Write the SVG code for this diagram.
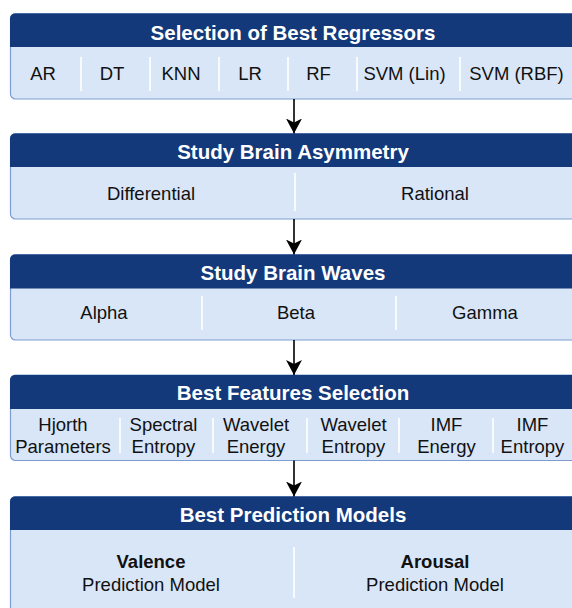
<svg xmlns="http://www.w3.org/2000/svg" width="572" height="608" viewBox="0 0 572 608">
  <defs>
    <style>
      .body { fill: #d9e6f8; stroke: #7d9dd0; stroke-width: 1.2; }
      .head { fill: #13397b; }
      .title { font-family: "Liberation Sans", Arial, sans-serif; font-weight: bold; font-size: 20.5px; fill: #ffffff; text-anchor: middle; }
      .item { font-family: "Liberation Sans", Arial, sans-serif; font-size: 18.5px; fill: #111111; text-anchor: middle; }
      .strong { font-weight: bold; }
      .sep { stroke: #ffffff; stroke-width: 1.6; }
      .conn { stroke: #000000; stroke-width: 1.6; fill: none; marker-end: url(#arrow); }
    </style>
    <marker id="arrow" viewBox="0 0 15 16" refX="15" refY="8" markerWidth="15" markerHeight="16" markerUnits="userSpaceOnUse" orient="auto">
      <path d="M0,0 L15,8 L0,16 L4,8 Z" fill="#000000"/>
    </marker>
  </defs>

  <!-- Stage 1: regressor selection -->
  <g id="regressors">
    <rect class="body" x="10.5" y="13.5" width="568" height="85.5" rx="5"/>
    <path class="head" d="M10,47 V18.5 A5,5 0 0 1 15,13.5 H580 V47 Z"/>
    <text class="title" x="293" y="40">Selection of Best Regressors</text>
    <line class="sep" x1="81" y1="57" x2="81" y2="91"/>
    <line class="sep" x1="150" y1="57" x2="150" y2="91"/>
    <line class="sep" x1="219" y1="57" x2="219" y2="91"/>
    <line class="sep" x1="288" y1="57" x2="288" y2="91"/>
    <line class="sep" x1="357" y1="57" x2="357" y2="91"/>
    <line class="sep" x1="460" y1="57" x2="460" y2="91"/>
    <text class="item" x="43" y="80">AR</text>
    <text class="item" x="112" y="80">DT</text>
    <text class="item" x="181" y="80">KNN</text>
    <text class="item" x="250" y="80">LR</text>
    <text class="item" x="318.5" y="80">RF</text>
    <text class="item" x="404.5" y="80">SVM (Lin)</text>
    <text class="item" x="516.5" y="80">SVM (RBF)</text>
  </g>

  <!-- Stage 2: brain asymmetry -->
  <g id="asymmetry">
    <rect class="body" x="10.5" y="133.5" width="568" height="85.5" rx="5"/>
    <path class="head" d="M10,167 V138.5 A5,5 0 0 1 15,133.5 H580 V167 Z"/>
    <text class="title" x="293" y="159">Study Brain Asymmetry</text>
    <line class="sep" x1="295" y1="173" x2="295" y2="211"/>
    <text class="item" x="151" y="200">Differential</text>
    <text class="item" x="435" y="200">Rational</text>
  </g>

  <!-- Stage 3: brain waves -->
  <g id="waves">
    <rect class="body" x="10.5" y="254.5" width="568" height="85.5" rx="5"/>
    <path class="head" d="M10,288.5 V259.5 A5,5 0 0 1 15,254.5 H580 V288.5 Z"/>
    <text class="title" x="293" y="280">Study Brain Waves</text>
    <line class="sep" x1="202" y1="296" x2="202" y2="330"/>
    <line class="sep" x1="396" y1="296" x2="396" y2="330"/>
    <text class="item" x="104" y="319">Alpha</text>
    <text class="item" x="296" y="319">Beta</text>
    <text class="item" x="485" y="319">Gamma</text>
  </g>

  <!-- Stage 4: feature selection -->
  <g id="features">
    <rect class="body" x="10.5" y="375" width="568" height="85.5" rx="5"/>
    <path class="head" d="M10,409 V380 A5,5 0 0 1 15,375 H580 V409 Z"/>
    <text class="title" x="293" y="400">Best Features Selection</text>
    <line class="sep" x1="120" y1="418" x2="120" y2="453"/>
    <line class="sep" x1="213" y1="418" x2="213" y2="453"/>
    <line class="sep" x1="307" y1="418" x2="307" y2="453"/>
    <line class="sep" x1="399" y1="418" x2="399" y2="453"/>
    <line class="sep" x1="493" y1="418" x2="493" y2="453"/>
    <text class="item" x="63" y="431">Hjorth</text>
    <text class="item" x="63" y="453">Parameters</text>
    <text class="item" x="163.5" y="431">Spectral</text>
    <text class="item" x="163.5" y="453">Entropy</text>
    <text class="item" x="256" y="431">Wavelet</text>
    <text class="item" x="256" y="453">Energy</text>
    <text class="item" x="353.5" y="431">Wavelet</text>
    <text class="item" x="353.5" y="453">Entropy</text>
    <text class="item" x="446.5" y="431">IMF</text>
    <text class="item" x="446.5" y="453">Energy</text>
    <text class="item" x="532.5" y="431">IMF</text>
    <text class="item" x="532.5" y="453">Entropy</text>
  </g>

  <!-- Stage 5: prediction models -->
  <g id="models">
    <rect class="body" x="10.5" y="496.5" width="568" height="120" rx="5"/>
    <path class="head" d="M10,530 V501.5 A5,5 0 0 1 15,496.5 H580 V530 Z"/>
    <text class="title" x="293" y="522">Best Prediction Models</text>
    <line class="sep" x1="294" y1="547" x2="294" y2="598"/>
    <text class="item strong" x="151" y="568">Valence</text>
    <text class="item" x="151" y="591">Prediction Model</text>
    <text class="item strong" x="435" y="568">Arousal</text>
    <text class="item" x="435" y="591">Prediction Model</text>
  </g>

  <!-- Flow between stages -->
  <g id="connectors">
    <line class="conn" x1="294" y1="99" x2="294" y2="133.5"/>
    <line class="conn" x1="294" y1="219" x2="294" y2="254.5"/>
    <line class="conn" x1="294" y1="340" x2="294" y2="375"/>
    <line class="conn" x1="294" y1="460.5" x2="294" y2="496.5"/>
  </g>
</svg>
